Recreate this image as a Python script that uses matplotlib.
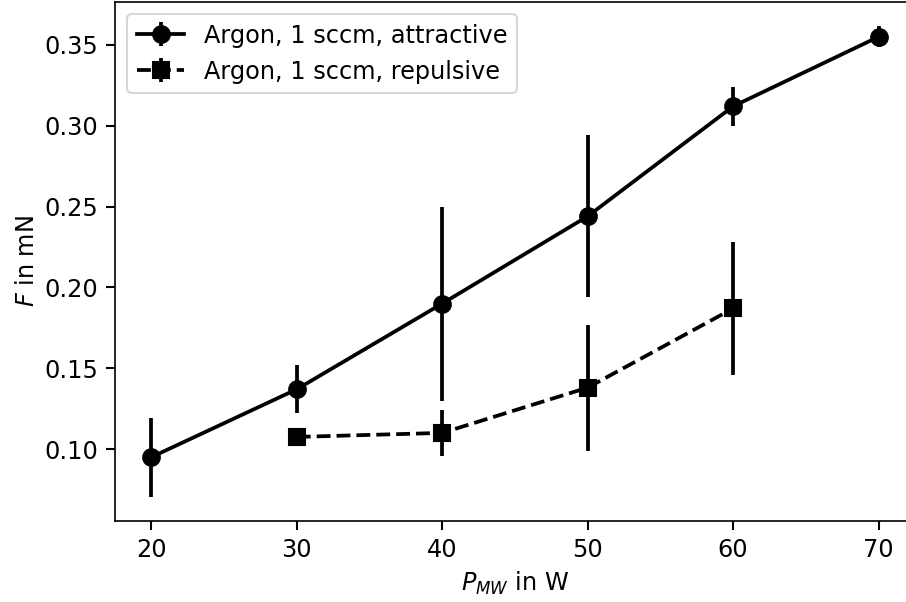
import matplotlib
matplotlib.use("Agg")
import matplotlib.pyplot as plt
import numpy as np

plt.rcParams['font.size'] = 11.5

# attractive force, Argon 1 sccm
p_att = [20, 30, 40, 50, 60, 70]
f_att = [0.095, 0.137, 0.190, 0.244, 0.312, 0.355]
err_att = [0.0245, 0.015, 0.060, 0.050, 0.012, 0.0065]

# repulsive force, Argon 1 sccm
p_rep = [30, 40, 50, 60]
f_rep = [0.1075, 0.110, 0.138, 0.187]
err_rep = [0.0, 0.014, 0.039, 0.041]

fig = plt.figure(figsize=(906 / 150, 602 / 150), dpi=150)
ax = fig.add_axes([115 / 906, 1 - 521 / 602, 800 / 906, 519 / 602])

ax.errorbar(p_att, f_att, yerr=err_att, fmt='o-', color='black', lw=1.8,
            elinewidth=1.8, markersize=8, label='Argon, 1 sccm, attractive')
ax.errorbar(p_rep, f_rep, yerr=err_rep, fmt='s--', color='black', lw=1.8,
            elinewidth=1.8, markersize=8, label='Argon, 1 sccm, repulsive')

ax.set_xlim(17.5, 72.5)
ax.set_ylim(0.0555, 0.3765)
ax.set_xticks([20, 30, 40, 50, 60, 70])
ax.set_yticks([0.10, 0.15, 0.20, 0.25, 0.30, 0.35])
ax.tick_params(width=1.0, length=4.5)
ax.set_xlabel(r'$P_{MW}$ in W')
ax.set_ylabel(r'$F$ in mN', labelpad=2.5)
ax.legend(loc='upper left')

fig.savefig('out.png', dpi=150)
